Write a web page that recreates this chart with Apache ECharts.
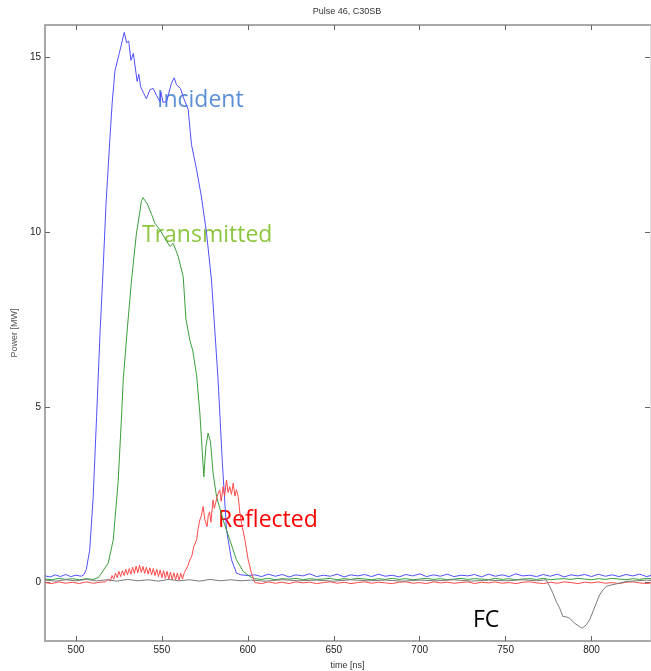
<!DOCTYPE html>
<html>
<head>
<meta charset="utf-8">
<title>Pulse 46, C30SB</title>
<script src="https://cdn.jsdelivr.net/npm/echarts@6/dist/echarts.min.js"></script>
<style>
  html, body { margin: 0; padding: 0; background: #fff; }
  #main { width: 651px; height: 671px; }
</style>
</head>
<body>
<div id="main"></div>
<script>
// tick positions
const timeTicks = [500, 550, 600, 650, 700, 750, 800]
const powerTicks = [0, 5, 10, 15]

// Incident pulse [time ns, power MW]
const incident = [
  [482, 0.17], [485, 0.14], [488, 0.2], [491, 0.15], [494, 0.21], [497, 0.15], [500, 0.19], [503, 0.16], [504.5, 0.2],
  [506, 0.35], [508, 0.9], [510, 2.4], [512, 4.7], [514, 7.1], [515.5, 8.6], [517.5, 10.8], [519.8, 12.7],
  [521.1, 13.7], [522.7, 14.6], [525.2, 15.1], [528.1, 15.7], [529.5, 15.4], [530.7, 15.45], [532, 14.9],
  [533.4, 15.1], [535.6, 14.3], [536.6, 14.5], [537.6, 14.15], [539.5, 13.95], [541, 13.8], [543, 14.06],
  [544.9, 14.1], [546.9, 13.9], [548.8, 13.72], [549.4, 14.0], [550.7, 13.7], [552.7, 13.72], [555.6, 14.25],
  [557.2, 14.4], [558.5, 14.2], [560.8, 14.1], [562.8, 13.8], [565.3, 13.5], [567.2, 12.5], [570.1, 11.8],
  [573, 11.0], [576, 9.96], [578.9, 8.6], [582.7, 5.77], [585.2, 3.39], [587.6, 1.49], [590.5, 0.63],
  [593.4, 0.25], [596, 0.2], [600, 0.18]
]
// Transmitted pulse
const transmitted = [
  [482, 0.08], [486, 0.06], [490, 0.1], [494, 0.07], [498, 0.09], [502, 0.06], [506, 0.09], [510, 0.07], [513, 0.12],
  [514.9, 0.25], [518.8, 0.54], [521.7, 1.2], [524.6, 2.9], [526.6, 4.8], [527.5, 5.77], [530, 7.3], [532.3, 8.6],
  [535.2, 9.96], [538.1, 10.87], [539, 10.98], [540.1, 10.9], [541.5, 10.8], [544, 10.5], [545.9, 10.25],
  [548.8, 10.06], [551.7, 9.82], [554.7, 9.58], [556.6, 9.67], [559.5, 9.3], [562.4, 8.72], [564, 7.5],
  [566.3, 6.9], [568, 6.6], [570.2, 5.9], [572.1, 4.82], [574.4, 3.0], [575.6, 3.87], [576.9, 4.25],
  [578.3, 4.0], [579.8, 3.1], [581.8, 2.44], [585.6, 1.77], [589.5, 1.2], [593.4, 0.63], [597.3, 0.3],
  [601.2, 0.15]
]
// Reflected pulse
const reflected = [
  [482, -0.02], [486, -0.05], [490, 0.0], [494, -0.04], [498, -0.01], [502, -0.05], [506, 0.0], [510, -0.04], [514, -0.01],
  [517, 0.0], [519, 0.08], [520, 0.02], [521, 0.18], [522, 0.08], [523, 0.25], [524, 0.12], [525, 0.3], [526, 0.15],
  [527, 0.32], [528, 0.18], [529, 0.36], [530, 0.2], [531, 0.38], [532, 0.22], [533, 0.42], [534, 0.24],
  [535, 0.45], [536, 0.26], [537, 0.48], [538, 0.27], [539, 0.44], [540, 0.24], [541, 0.42], [542, 0.22],
  [543, 0.4], [544, 0.2], [545, 0.38], [546, 0.18], [547, 0.36], [548, 0.15], [549, 0.34], [550, 0.12],
  [551, 0.32], [552, 0.1], [553, 0.3], [554, 0.08], [555, 0.28], [556, 0.06], [557, 0.26], [558, 0.06],
  [559, 0.25], [560, 0.05], [561, 0.24], [562, 0.08], [563, 0.26], [564, 0.3], [565, 0.45], [566.3, 0.63],
  [567.5, 0.75], [568.5, 1.0], [570.2, 1.2], [571, 1.5], [572.1, 1.77], [573, 1.9], [574, 2.15], [575, 1.77],
  [576.3, 1.58], [577, 1.9], [577.8, 2.0], [578.5, 1.7], [579.8, 2.34], [580.5, 2.1], [581.4, 2.06],
  [582.5, 2.5], [583.7, 2.63], [584.5, 2.3], [585.6, 2.72], [586.5, 2.45], [587.6, 2.91], [588.5, 2.55],
  [589.5, 2.72], [590.5, 2.5], [591.5, 2.82], [592.5, 2.45], [593.4, 2.63], [594.4, 2.44], [595.3, 2.0],
  [596.3, 1.68], [597.3, 1.45], [598.3, 1.2], [600.2, 0.63], [602.1, 0.25], [604.1, -0.02]
]
// Faraday cup trace
const fc = [
  [482, 0.05], [488, 0.02], [494, 0.06], [500, 0.03], [506, 0.07], [512, 0.03], [518, 0.06], [524, 0.02],
  [530, 0.07], [536, 0.03], [542, 0.06], [548, 0.02], [554, 0.07], [560, 0.03], [566, 0.06], [572, 0.02],
  [578, 0.07], [584, 0.03], [590, 0.06], [596, 0.03], [602, 0.05], [610, 0.02], [620, 0.06], [630, 0.03],
  [640, 0.05], [650, 0.02], [660, 0.06], [670, 0.03], [680, 0.05], [690, 0.02], [700, 0.05], [710, 0.03],
  [720, 0.06], [730, 0.02], [740, 0.05], [750, 0.03], [760, 0.06], [768, 0.03], [773.6, 0.06],
  [775.6, -0.13], [777.5, -0.32], [779.4, -0.56], [781.4, -0.75], [783.3, -0.99], [785.3, -1.0],
  [787.2, -1.04], [790.1, -1.18], [793, -1.28], [794.6, -1.32], [796.9, -1.23], [798.8, -1.09],
  [800.8, -0.85], [802.7, -0.61], [804.7, -0.37], [806.6, -0.23], [808.5, -0.13], [811.4, -0.09],
  [814.3, -0.06], [820.1, 0.01], [826, 0.03], [832, 0.05], [840, 0.03]
]
// noisy baselines after the pulse, sampled every 4 ns from 604 ns
const tailStart = 604
const tailStep = 4
const incidentTail = [
  0.2, 0.15, 0.22, 0.16, 0.21, 0.14, 0.2, 0.17, 0.23, 0.15,
  0.19, 0.16, 0.22, 0.14, 0.2, 0.17, 0.21, 0.15, 0.22, 0.16,
  0.19, 0.14, 0.21, 0.17, 0.23, 0.15, 0.2, 0.16, 0.22, 0.15,
  0.19, 0.17, 0.21, 0.14, 0.22, 0.16, 0.2, 0.15, 0.23, 0.17,
  0.19, 0.15, 0.21, 0.16, 0.22, 0.14, 0.2, 0.17, 0.21, 0.15,
  0.22, 0.16, 0.2, 0.15, 0.21, 0.17, 0.22, 0.15, 0.2, 0.18
]
const transmittedTail = [
  0.09, 0.07, 0.1, 0.06, 0.09, 0.08, 0.1, 0.06, 0.09, 0.07,
  0.08, 0.1, 0.06, 0.09, 0.07, 0.1, 0.08, 0.06, 0.09, 0.07,
  0.1, 0.07, 0.09, 0.06, 0.08, 0.1, 0.07, 0.09, 0.06, 0.08,
  0.1, 0.07, 0.09, 0.08, 0.06, 0.1, 0.07, 0.09, 0.06, 0.08,
  0.09, 0.07, 0.1, 0.06, 0.08, 0.09, 0.07, 0.1, 0.08, 0.06,
  0.09, 0.07, 0.1, 0.08, 0.06, 0.09, 0.07, 0.1, 0.08, 0.07
]
const reflectedTail = [
  -0.02, -0.05, 0.0, -0.04, -0.01, -0.05, 0.0, -0.03, -0.01, -0.05,
  -0.02, 0.0, -0.04, -0.01, -0.05, -0.02, 0.0, -0.04, -0.01, -0.03,
  -0.05, -0.01, 0.0, -0.04, -0.02, -0.05, 0.0, -0.03, -0.01, -0.04,
  -0.02, 0.0, -0.05, -0.01, -0.03, 0.0, -0.04, -0.02, -0.05, -0.01,
  0.0, -0.03, -0.05, -0.01, -0.04, 0.0, -0.02, -0.05, -0.01, -0.03,
  0.0, -0.04, -0.02, -0.05, -0.01, 0.0, -0.03, -0.05, -0.02, -0.01
]

const withTail = (head, tail) => {
  const out = head.slice()
  tail.forEach((v, i) => out.push([tailStart + i * tailStep, v]))
  return out
}

const tickFont = 'Liberation Sans Narrow, Liberation Sans, sans-serif'
const noteFont = '23px "Open Sans", sans-serif'
const axisGray = '#a8a8a8'

const xBase = {
  type: 'value',
  min: 482,
  max: 834,
  splitLine: { show: false },
  axisLine: { onZero: false, lineStyle: { color: axisGray, width: 2 } },
  axisTick: { inside: true, length: 5, customValues: timeTicks, lineStyle: { color: '#666' } }
}
const yBase = {
  type: 'value',
  min: -1.69,
  max: 15.91,
  splitLine: { show: false },
  axisLine: { onZero: false, lineStyle: { color: axisGray, width: 2 } },
  axisTick: { inside: true, length: 5, customValues: powerTicks, lineStyle: { color: '#666' } }
}

const chart = echarts.init(document.getElementById('main'))
const option = {
  animation: false,
  backgroundColor: '#fff',
  grid: { left: 45, right: 1, top: 25, bottom: 30, containLabel: false, outerBoundsMode: 'none' },
  xAxis: [
    Object.assign({}, xBase, {
      position: 'bottom',
      name: 'time [ns]',
      nameLocation: 'middle',
      nameGap: 20,
      nameTextStyle: { fontFamily: tickFont, fontSize: 9, color: '#333' },
      axisLabel: { customValues: timeTicks, fontFamily: tickFont, fontSize: 10, color: '#222', margin: 4 }
    }),
    Object.assign({}, xBase, { position: 'top', axisLabel: { show: false } })
  ],
  yAxis: [
    Object.assign({}, yBase, {
      position: 'left',
      name: 'Power [MW]',
      nameLocation: 'middle',
      nameGap: 16,
      nameTextStyle: { fontFamily: tickFont, fontSize: 9, color: '#555' },
      axisLabel: { customValues: powerTicks, fontFamily: tickFont, fontSize: 10, color: '#222', margin: 4 }
    }),
    Object.assign({}, yBase, {
      position: 'right',
      axisLine: { onZero: false, lineStyle: { color: '#ddd', width: 1 } },
      axisLabel: { show: false }
    })
  ],
  series: [
    {
      name: 'Incident', type: 'line', showSymbol: false,
      lineStyle: { color: '#5050ff', width: 1 },
      data: withTail(incident, incidentTail)
    },
    {
      name: 'Transmitted', type: 'line', showSymbol: false,
      lineStyle: { color: '#3a9e3a', width: 1 },
      data: withTail(transmitted, transmittedTail)
    },
    {
      name: 'Reflected', type: 'line', showSymbol: false,
      lineStyle: { color: '#ff4a4a', width: 1 },
      data: withTail(reflected, reflectedTail)
    },
    {
      name: 'FC', type: 'line', showSymbol: false,
      lineStyle: { color: '#7a7a7a', width: 1 },
      data: fc
    }
  ],
  graphic: [
    { type: 'text', x: 347, y: 12, style: { text: 'Pulse 46, C30SB', font: '9px ' + tickFont, fill: '#333', align: 'center', verticalAlign: 'middle' } },
    { type: 'text', x: 157, y: 100, style: { text: 'Incident', font: noteFont, fill: '#5b8fd6', verticalAlign: 'middle' } },
    { type: 'text', x: 142, y: 235, style: { text: 'Transmitted', font: noteFont, fill: '#8cc63f', verticalAlign: 'middle' } },
    { type: 'text', x: 218, y: 520, style: { text: 'Reflected', font: noteFont, fill: '#ff0000', verticalAlign: 'middle' } },
    { type: 'text', x: 473, y: 620, style: { text: 'FC', font: noteFont, fill: '#000', verticalAlign: 'middle' } }
  ]
}
chart.setOption(option)
window.addEventListener('resize', chart.resize)
</script>
</body>
</html>
